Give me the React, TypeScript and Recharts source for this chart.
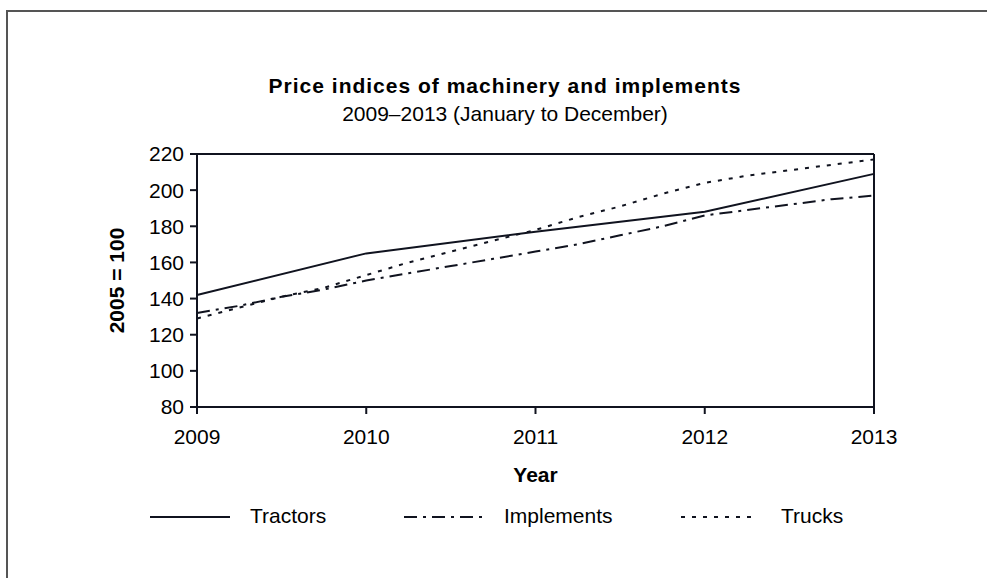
import { LineChart, Line, XAxis, YAxis, ReferenceLine, Label } from "recharts"

const FONT = "'Liberation Sans', Arial, sans-serif"
const INK = "#10131f"

// quarterly positions (Jan 2009 .. Dec 2013)
const periods = [
  2009, 2009.25, 2009.5, 2009.75, 2010, 2010.25, 2010.5, 2010.75, 2011,
  2011.25, 2011.5, 2011.75, 2012, 2012.25, 2012.5, 2012.75, 2013,
]
// tractors only read at the year marks, straight between them
const tractors = [142, null, null, null, 165, null, null, null, 177, null, null, null, 188, null, null, null, 209]
const implementsIdx = [132, 136, 141, 145, 150, 154, 158, 162, 166, 170, 175, 180, 186, 189, 192, 195, 197]
const trucks = [129, 135, 141, 146, 153, 160, 166, 172, 178, 185, 191, 198, 204, 208, 211, 214, 217]

const yearTicks = [2009, 2010, 2011, 2012, 2013]
const valueTicks = [80, 100, 120, 140, 160, 180, 200, 220]

const series = [
  { key: "tractors", name: "Tractors", dash: undefined as string | undefined },
  { key: "implements", name: "Implements", dash: "13 6 3 6" },
  { key: "trucks", name: "Trucks", dash: "4 7" },
]

const data = periods.map((year, i) => ({
  year,
  tractors: tractors[i],
  implements: implementsIdx[i],
  trucks: trucks[i],
}))

// legend sample positions: [lineStart, lineEnd, textLeft]
const legendSpots = [
  [150, 230, 250],
  [404, 483, 504],
  [681, 758, 781],
]

const tickStyle = { fontFamily: FONT, fontSize: 21, fill: "#000" }

export default function App() {
  return (
    <div
      style={{
        position: "absolute",
        left: 0,
        top: 0,
        width: 987,
        height: 578,
        overflow: "hidden",
        background: "#fff",
        fontFamily: FONT,
      }}
    >
      {/* outer frame, only left and top edges show */}
      <div
        style={{
          position: "absolute",
          left: 6,
          top: 10,
          width: 1000,
          height: 600,
          borderLeft: "2px solid #555",
          borderTop: "2px solid #555",
        }}
      />
      <div
        style={{
          position: "absolute",
          left: 0,
          width: 1010,
          top: 74,
          textAlign: "center",
          fontWeight: "bold",
          fontSize: 21,
          letterSpacing: 1,
          color: "#000",
        }}
      >
        Price indices of machinery and implements
      </div>
      <div
        style={{
          position: "absolute",
          left: 0,
          width: 1010,
          top: 102,
          textAlign: "center",
          fontSize: 21,
          color: "#000",
        }}
      >
        2009–2013 (January to December)
      </div>

      <div style={{ position: "absolute", left: 0, top: 0 }}>
        <LineChart
          width={987}
          height={578}
          data={data}
          margin={{ top: 154, right: 113, bottom: 91, left: 0 }}
        >
          <XAxis
            dataKey="year"
            type="number"
            domain={[2009, 2013]}
            ticks={yearTicks}
            height={80}
            tickSize={7}
            tickMargin={15}
            stroke={INK}
            strokeWidth={2}
            tick={tickStyle}
          >
            <Label
              value="Year"
              position="insideBottom"
              offset={5}
              style={{ fontFamily: FONT, fontSize: 21, fontWeight: "bold", fill: "#000" }}
            />
          </XAxis>
          <YAxis
            domain={[80, 220]}
            ticks={valueTicks}
            width={197}
            tickSize={7}
            tickMargin={6}
            stroke={INK}
            strokeWidth={2}
            tick={tickStyle}
            interval={0}
          >
            <Label
              value="2005 = 100"
              angle={-90}
              position="insideLeft"
              offset={117}
              style={{ fontFamily: FONT, fontSize: 21, fontWeight: "bold", fill: "#000", textAnchor: "middle" }}
            />
          </YAxis>
          <ReferenceLine y={220} stroke={INK} strokeWidth={2} />
          <ReferenceLine x={2013} stroke={INK} strokeWidth={2} />
          {series.map((s) => (
            <Line
              key={s.key}
              dataKey={s.key}
              name={s.name}
              type="linear"
              stroke={INK}
              strokeWidth={2}
              strokeDasharray={s.dash}
              dot={false}
              connectNulls
              isAnimationActive={false}
            />
          ))}
        </LineChart>
      </div>

      {series.map((s, i) => {
        const [x0, x1, tx] = legendSpots[i]
        return (
          <div key={s.key}>
            <svg
              style={{ position: "absolute", left: x0, top: 511 }}
              width={x1 - x0}
              height={12}
            >
              <line x1={0} y1={6} x2={x1 - x0} y2={6} stroke={INK} strokeWidth={2} strokeDasharray={s.dash} />
            </svg>
            <div style={{ position: "absolute", left: tx, top: 504, fontSize: 21, color: "#000", whiteSpace: "nowrap" }}>
              {s.name}
            </div>
          </div>
        )
      })}
    </div>
  )
}
